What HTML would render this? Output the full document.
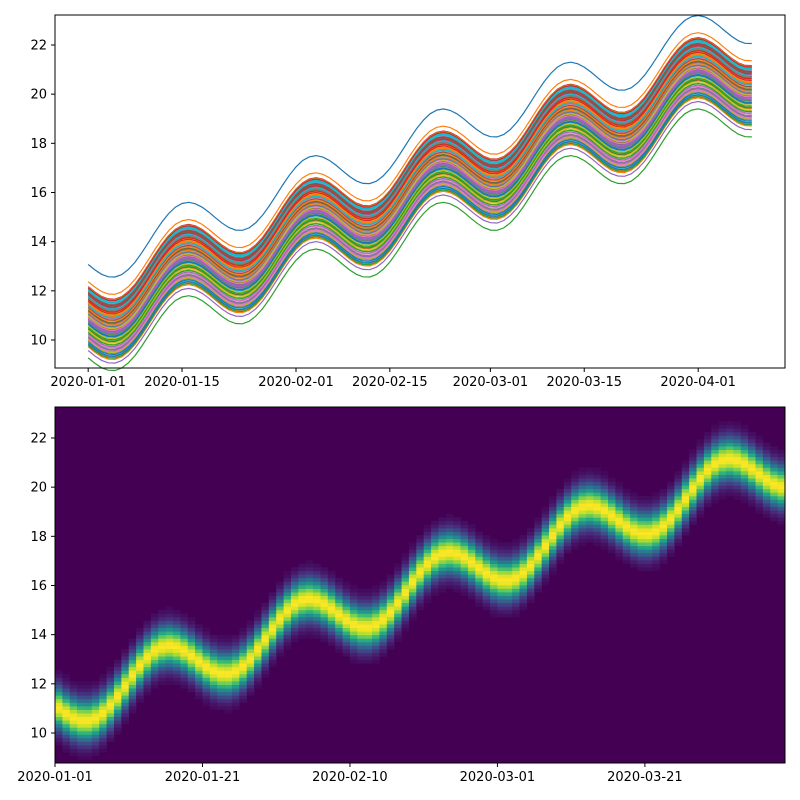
<!DOCTYPE html>
<html><head><meta charset="utf-8"><style>
body{margin:0;background:#fff;width:800px;height:800px;overflow:hidden}
svg{display:block;font-family:"DejaVu Sans","Liberation Sans",sans-serif}
</style></head><body>
<svg id="chart" width="800" height="800" viewBox="0 0 800 800" xmlns="http://www.w3.org/2000/svg">
<g id="topPanel"></g>
<g id="botPanel"></g>
</svg>
<script>
// center curve value per day
const centers=[11.02,10.80,10.62,10.52,10.51,10.61,10.82,11.12,11.50,11.92,12.35,12.75,13.09,13.35,13.50,13.55,13.49,13.35,13.15,12.92,12.70,12.52,12.42,12.41,12.51,12.72,13.02,13.40,13.82,14.25,14.65,14.99,15.25,15.40,15.45,15.39,15.25,15.05,14.82,14.60,14.42,14.32,14.31,14.41,14.62,14.92,15.30,15.72,16.15,16.55,16.89,17.15,17.30,17.35,17.29,17.15,16.95,16.72,16.50,16.32,16.22,16.21,16.31,16.52,16.82,17.20,17.62,18.05,18.45,18.79,19.05,19.20,19.25,19.19,19.05,18.85,18.62,18.40,18.22,18.12,18.11,18.21,18.42,18.72,19.10,19.52,19.95,20.35,20.69,20.95,21.10,21.15,21.09,20.95,20.75,20.52,20.30,20.12,20.02,20.01];
// per-series offsets from center
const offsets=[2.05,1.35,-1.75,1.15,-1.45,0.42,-0.31,0.88,-0.95,0.12,1.02,-1.22,0.65,-0.58,0.27,-0.08,0.95,-1.05,0.5,-0.4,1.08,-1.3,0.2,-0.7,0.78,-0.15,0.35,-0.88,1.12,-1.15,0.02,0.58,-0.5,0.9,-0.22,0.72,-1.0,0.15,-0.62,1.05,-0.35,0.45,-1.25,0.82,-0.78,0.3,-0.02,0.68,-0.45,1.0,-1.1,0.1,-0.28,0.55,-0.92,0.85,-0.12,0.38,-0.68,0.98,-1.18,0.25,-0.55,0.62,-0.18,0.92,-0.82,0.05,-1.02,0.75,-0.38,0.48,-0.72,1.1,-0.25,0.18,-0.98,0.7,-0.05,0.4];
const yTicks=[10,12,14,16,18,20,22];
const topXTickDays=[0,14,31,45,60,74,91];
const topXTickLabels=["2020-01-01","2020-01-15","2020-02-01","2020-02-15","2020-03-01","2020-03-15","2020-04-01"];
const botXTickDays=[0,20,40,60,80];
const botXTickLabels=["2020-01-01","2020-01-21","2020-02-10","2020-03-01","2020-03-21"];

const NS="http://www.w3.org/2000/svg";
function mk(tag,attrs,parent){const e=document.createElementNS(NS,tag);for(const k in attrs)e.setAttribute(k,attrs[k]);parent.appendChild(e);return e;}
const tab10=["#1f77b4","#ff7f0e","#2ca02c","#d62728","#9467bd","#8c564b","#e377c2","#7f7f7f","#bcbd22","#17becf"];
const L=55,R=785;
const T0=15,T1=368,YMIN=8.86,YMAX=23.22;
const tx=d=>L+(d+4.95)*(R-L)/108.9;
const ty=v=>T1-(v-YMIN)*(T1-T0)/(YMAX-YMIN);
const topG=document.getElementById('topPanel');
offsets.forEach((o,i)=>{
  const pts=centers.map((c,t)=>tx(t).toFixed(1)+','+ty(c+o).toFixed(1)).join(' ');
  const p=mk('polyline',{points:pts,fill:'none',stroke:tab10[i%10],'stroke-width':1.2},topG);
  
  
});
function axes(g,y0,y1,yf,xs,xl,xf){
  const f=mk('rect',{x:L,y:y0,width:R-L,height:y1-y0,fill:'none',stroke:'#000','stroke-width':1},g);
  
  
  yTicks.forEach(v=>{const y=yf(v);
    mk('line',{x1:L-4,x2:L,y1:y,y2:y,stroke:'#000'},g);
    const t=mk('text',{x:L-8,y:y+4.5,'text-anchor':'end','font-size':13},g);t.textContent=v;
    
    });
  xs.forEach((d,i)=>{const x=xf(d);
    mk('line',{x1:x,x2:x,y1:y1,y2:y1+4,stroke:'#000'},g);
    const t=mk('text',{x:x,y:y1+18,'text-anchor':'middle','font-size':13},g);t.textContent=xl[i];
    
    });
}
axes(topG,T0,T1,ty,topXTickDays,topXTickLabels,tx);

const B0=407,B1=763,BYMIN=8.78,BYMAX=23.26;
const bx=d=>L+d*(R-L)/99;
const by=v=>B1-(v-BYMIN)*(B1-B0)/(BYMAX-BYMIN);
const botG=document.getElementById('botPanel');
mk('rect',{x:L,y:B0,width:R-L,height:B1-B0,fill:'#440154'},botG);
const vir=[[68,1,84],[72,40,120],[62,74,137],[49,104,142],[38,130,142],[31,158,137],[53,183,121],[109,205,89],[180,222,44],[253,231,37]];
function vcol(f){f=Math.max(0,Math.min(1,f))*9;const i=Math.min(8,Math.floor(f)),r=f-i;const a=vir[i],b=vir[i+1];
  return 'rgb('+a.map((c,k)=>Math.round(c+(b[k]-c)*r)).join(',')+')';}
const NB=100,bh=(BYMAX-BYMIN)/NB,sig=0.55;
for(let t=0;t<99;t++){
  const c=centers[t];
  for(let j=0;j<NB;j++){
    const yc=BYMIN+(j+0.5)*bh;const d=(yc-c)/sig;const f=Math.exp(-d*d/2);
    if(f<0.02)continue;
    const r=mk('rect',{x:bx(t).toFixed(2),y:by(BYMIN+(j+1)*bh).toFixed(2),width:((R-L)/99+0.3).toFixed(2),height:((B1-B0)/NB+0.3).toFixed(2),fill:vcol(f)},botG);
    
    
  }
}
axes(botG,B0,B1,by,botXTickDays,botXTickLabels,bx);
</script>
</body></html>
